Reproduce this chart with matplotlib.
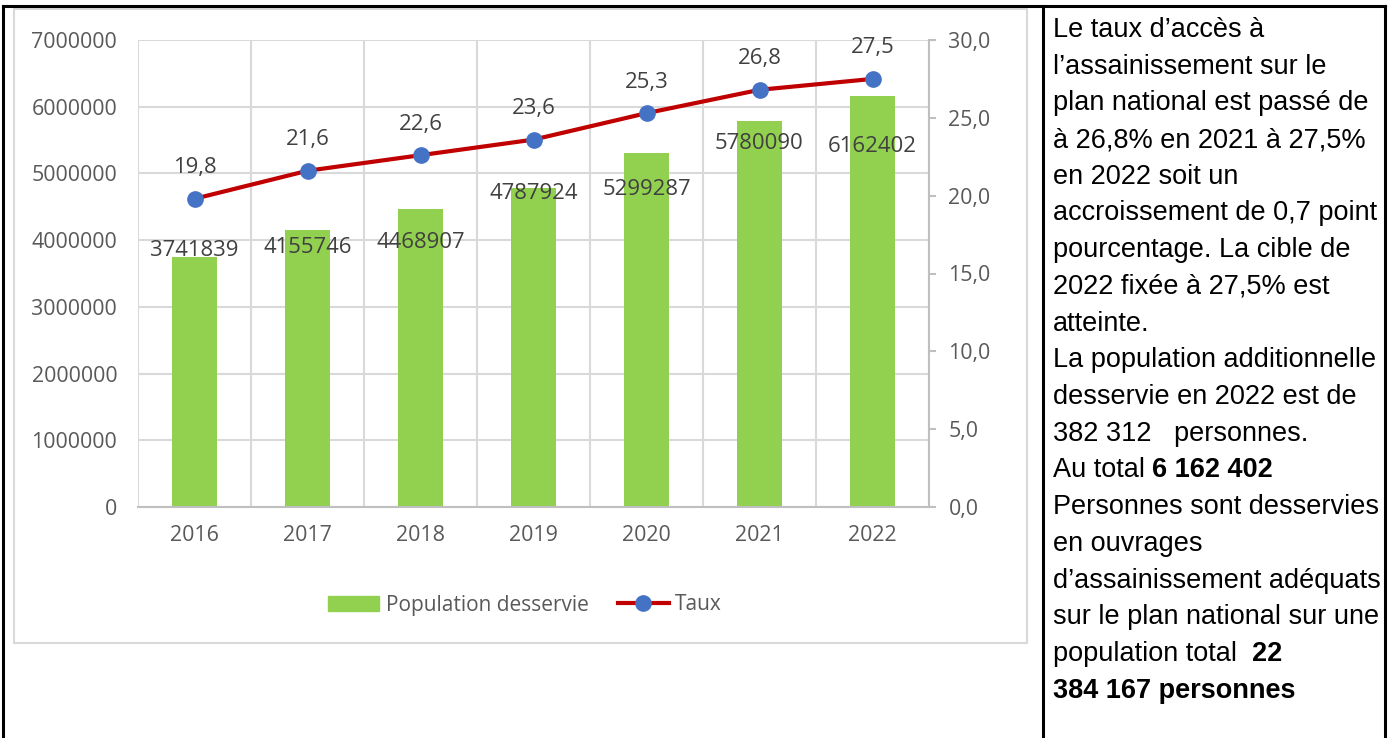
import numpy as np
import matplotlib
matplotlib.use("Agg")
import matplotlib.pyplot as plt
from matplotlib.patches import Rectangle
from matplotlib.lines import Line2D
from matplotlib.ticker import FixedLocator, FuncFormatter

# data
years = ["2016", "2017", "2018", "2019", "2020", "2021", "2022"]
population = [3741839, 4155746, 4468907, 4787924, 5299287, 5780090, 6162402]
taux = [19.8, 21.6, 22.6, 23.6, 25.3, 26.8, 27.5]

# vertical shift (in px) of each bar label relative to the bar top
bar_label_shift = [7, -18, -34, -6, -36, -22, -51]

W, H = 1390, 738
PT = 0.72  # points per pixel at dpi 100

GREEN = "#92d050"
RED = "#c00000"
BLUE = "#4472c4"
GRID = "#d9d9d9"
AXIS = "#bfbfbf"
TICK = "#595959"
LABEL = "#404040"

chart_font = "Open Sans"
text_font = "Liberation Sans"

fig = plt.figure(figsize=(W / 100, H / 100), dpi=100)


def fx(px):
    return px / W


def fy(py):
    return 1 - py / H


ax = fig.add_axes([fx(138), fy(507), fx(929 - 138), (507 - 40) / H])
x = np.arange(len(years))

ax.bar(x, population, width=0.39, color=GREEN, zorder=2)
ax.set_xlim(-0.5, len(years) - 0.5)
ax.set_ylim(0, 7000000)
ax.yaxis.set_major_locator(FixedLocator(np.arange(0, 7000001, 1000000)))
ax.yaxis.set_major_formatter(FuncFormatter(lambda v, p: f"{int(v)}"))
ax.set_xticks(x)
ax.set_xticklabels(years)
ax.xaxis.set_minor_locator(FixedLocator(np.arange(-0.5, len(years), 1)))
ax.grid(axis="y", which="major", color=GRID, lw=1.5, zorder=0)
ax.grid(axis="x", which="minor", color=GRID, lw=1.5, zorder=0)
ax.tick_params(axis="both", which="both", length=0, colors=TICK)
ax.tick_params(axis="y", pad=15, labelsize=15.4)
ax.tick_params(axis="x", pad=13, labelsize=15.4)
for lab in ax.get_xticklabels() + ax.get_yticklabels():
    lab.set_fontfamily(chart_font)
for s in ["left", "top", "right"]:
    ax.spines[s].set_visible(False)
ax.spines["bottom"].set_color(AXIS)
ax.spines["bottom"].set_linewidth(1.5)
ax.set_axisbelow(True)

for xi, v, sh in zip(x, population, bar_label_shift):
    ax.annotate(str(v), (xi, v), xytext=(0, sh * PT), textcoords="offset points",
                ha="center", va="center", fontsize=15.9, color=LABEL,
                family=chart_font, zorder=4)

ax2 = ax.twinx()
ax2.set_ylim(0, 30)
ax2.yaxis.set_major_locator(FixedLocator(np.arange(0, 31, 5)))
ax2.yaxis.set_major_formatter(FuncFormatter(lambda v, p: f"{v:.1f}".replace(".", ",")))
for s in ["left", "top", "bottom"]:
    ax2.spines[s].set_visible(False)
ax2.spines["right"].set_color(AXIS)
ax2.spines["right"].set_linewidth(1.5)
ax2.tick_params(axis="y", direction="out", length=5, width=1.5, color=AXIS,
                labelcolor=TICK, labelsize=15.4, pad=9)
for lab in ax2.get_yticklabels():
    lab.set_fontfamily(chart_font)

ax2.plot(x, taux, color=RED, lw=3, marker="o", ms=11, mfc=BLUE, mec=BLUE,
         zorder=3)
for xi, v in zip(x, taux):
    ax2.annotate(f"{v:.1f}".replace(".", ","), (xi, v), xytext=(0, 31 * PT),
                 textcoords="offset points", ha="center", va="center",
                 fontsize=15.9, color=LABEL, family=chart_font)

# legend
handles = [
    Rectangle((0, 0), 1, 1, color=GREEN),
    Line2D([], [], color=RED, lw=3, marker="o", ms=11, mfc=BLUE, mec=BLUE),
]
fig.legend(handles, ["Population desservie", "Taux"], loc="center",
           bbox_to_anchor=(fx(525), fy(605)), ncol=2, frameon=False,
           prop={"family": chart_font, "size": 15}, labelcolor=TICK,
           handlelength=2.45, handletextpad=0.3, columnspacing=1.4)

# chart area border
fig.add_artist(Rectangle((fx(14), fy(643)), fx(1027 - 14), (643 - 9) / H,
                         fill=False, edgecolor=GRID, lw=1.5,
                         transform=fig.transFigure))

# table border lines
for xs, ys in [((3, 3), (6, H)), ((3, 1385), (6, 6)),
               ((1043, 1043), (6, H)), ((1385, 1385), (6, H))]:
    fig.add_artist(Line2D([fx(xs[0]), fx(xs[1])], [fy(ys[0]), fy(ys[1])],
                          color="black", lw=2.2, transform=fig.transFigure))

# commentary text on the right
lines = [
    ("Le taux d’accès à", None),
    ("l’assainissement sur le", None),
    ("plan national est passé de", None),
    ("à 26,8% en 2021 à 27,5%", None),
    ("en 2022 soit un", None),
    ("accroissement de 0,7 point", None),
    ("pourcentage. La cible de", None),
    ("2022 fixée à 27,5% est", None),
    ("atteinte.", None),
    ("La population additionnelle", None),
    ("desservie en 2022 est de", None),
    ("382 312   personnes.", None),
    ("Au total ", "6 162 402"),
    ("Personnes sont desservies", None),
    ("en ouvrages", None),
    ("d’assainissement adéquats", None),
    ("sur le plan national sur une", None),
    ("population total  ", "22"),
    ("", "384 167 personnes"),
]
for i, (normal, bold) in enumerate(lines):
    base = 37 + i * 36.7
    t = fig.text(fx(1053), fy(base), normal if normal else " ", fontsize=19.5,
                 family=text_font, va="baseline", ha="left", color="black")
    if bold:
        if normal:
            ax.annotate(bold, xy=(1, 0), xycoords=t, va="bottom", ha="left",
                        fontsize=19.5, family=text_font, fontweight="bold",
                        annotation_clip=False)
        else:
            fig.text(fx(1053), fy(base), bold, fontsize=19.5, family=text_font,
                     fontweight="bold", va="baseline", ha="left")

fig.savefig("out.png", dpi=100)
